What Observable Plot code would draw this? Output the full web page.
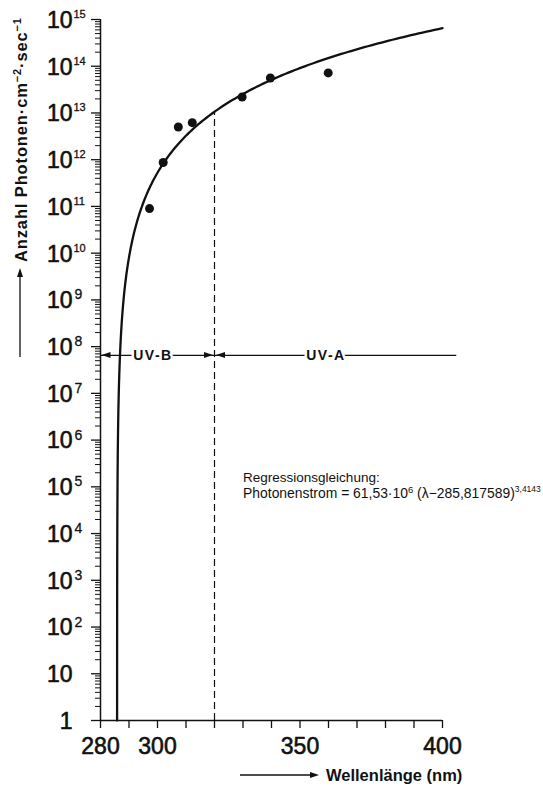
<!DOCTYPE html>
<html>
<head>
<meta charset="utf-8">
<script src="https://cdn.jsdelivr.net/npm/d3@7"></script>
<script src="https://cdn.jsdelivr.net/npm/@observablehq/plot@0.6"></script>
<style>
  body { margin: 0; background: #fff; }
  #chart svg { display: block; }
</style>
</head>
<body>
<div id="chart"></div>
<script>
// Measured photon flux (photons · cm⁻² · s⁻¹) at selected wavelengths (nm)
const wavelengths = [297.2, 302.0, 307.3, 312.2, 329.7, 339.6, 359.9];
const photonFlux  = [9.0e10, 8.7e11, 5.0e12, 6.2e12, 2.2e13, 5.6e13, 7.2e13];

// Regression: flux = a · (λ − λ0)^b
const regA = 61.53e6;
const regLambda0 = 285.817589;
const regExp = 3.4143;

// Axes
const xTicks = [280, 290, 300, 310, 320, 330, 340, 350, 360, 370, 380, 390, 400];
const xTickLabels = [280, 300, 350, 400];
const yDecades = [0, 1, 2, 3, 4, 5, 6, 7, 8, 9, 10, 11, 12, 13, 14, 15];

// UV-B / UV-A bands
const bandEdges = [280, 320, 405];
const bandLabels = ["UV-B", "UV-A"];
const bandLabelX = [298.4, 359.1];
const bandLevel = 6.5e7;

const flux = l => regA * Math.pow(l - regLambda0, regExp);
const lambdaStart = regLambda0 + Math.pow(1 / regA, 1 / regExp);
const curve = d3.range(0, 241).map(i => {
  const l = lambdaStart + (400 - lambdaStart) * Math.pow(i / 240, 3);
  return {l, f: flux(l)};
});
const points = wavelengths.map((l, i) => ({l, f: photonFlux[i]}));

const majorY = yDecades.map(n => 10 ** n);
const minorY = yDecades.slice(0, -1).flatMap(n => d3.range(2, 10).map(k => k * 10 ** n));

// Text with superscript runs, placed from the plot's scales/dimensions
function richText(parts, place, opts) {
  return (index, scales, values, dims) => {
    const [x, y] = place(scales, dims);
    const t = d3.create("svg:text")
      .attr("transform", `translate(${x},${y})` + (opts.rotate ? ` rotate(${opts.rotate})` : ""))
      .attr("font-size", opts.fontSize)
      .attr("font-weight", opts.fontWeight || "normal")
      .attr("text-anchor", opts.anchor || "start")
      .attr("fill", "#111");
    if (opts.letterSpacing) t.attr("letter-spacing", opts.letterSpacing);
    if (opts.textLength) t.attr("textLength", opts.textLength).attr("lengthAdjust", "spacing");
    let shift = 0;
    for (const p of parts) {
      const s = t.append("tspan").text(p.text);
      const target = p.sup ? -(p.raise || opts.fontSize * 0.4) : 0;
      if (target !== shift) { s.attr("dy", target - shift); shift = target; }
      if (p.sup) s.attr("font-size", p.size || opts.fontSize * 0.62);
    }
    return t.node();
  };
}

// Filled arrowheads for the band bracket and the axis-title arrows
function arrowheads(index, scales, values, dims) {
  const g = d3.create("svg:g").attr("fill", "#111").attr("stroke", "none");
  const tri = (x, y, dir) => {
    const L = 9, w = 3;
    const p = {
      left:  `M${x},${y}L${x + L},${y - w}L${x + L},${y + w}Z`,
      right: `M${x},${y}L${x - L},${y - w}L${x - L},${y + w}Z`,
      up:    `M${x},${y}L${x - w},${y + L}L${x + w},${y + L}Z`
    }[dir];
    g.append("path").attr("d", p);
  };
  const yb = scales.y(bandLevel);
  tri(scales.x(bandEdges[0]) + 1.5, yb, "left");
  tri(scales.x(bandEdges[1]) - 1, yb, "right");
  tri(scales.x(bandEdges[1]) + 2, yb, "left");
  // axis title arrows
  const ax = 20;
  g.append("line").attr("x1", ax).attr("x2", ax).attr("y1", 357).attr("y2", 275)
    .attr("stroke", "#111").attr("stroke-width", 1.3);
  tri(ax, 268, "up");
  const ay = dims.height - 13;
  g.append("line").attr("x1", 240).attr("x2", 312).attr("y1", ay).attr("y2", ay)
    .attr("stroke", "#111").attr("stroke-width", 1.3);
  tri(319, ay, "right");
  return g.node();
}

const chart = Plot.plot({
  width: 543,
  height: 788,
  marginLeft: 100,
  marginRight: 101,
  marginTop: 19,
  marginBottom: 68,
  style: {fontFamily: '"Liberation Sans", Arial, Helvetica, sans-serif', background: "#fff", color: "#111"},
  x: {domain: [280, 400]},
  y: {type: "log", domain: [1, 1e15]},
  marks: [
    Plot.ruleX([280], {strokeWidth: 1.5}),
    Plot.ruleY([1], {strokeWidth: 1.5}),
    Plot.axisX(xTicks, {
      tickSize: 8, tickPadding: 9, fontSize: 23, strokeWidth: 1.3, label: null,
      tickFormat: d => xTickLabels.includes(d) ? String(d) : ""
    }),
    Plot.axisY(minorY, {tickSize: 5, tickFormat: () => "", label: null, strokeWidth: 1}),
    Plot.axisY(majorY, {tickSize: 9, tickFormat: () => "", label: null, strokeWidth: 1.3}),
    Plot.text(yDecades, {
      y: n => 10 ** n, text: n => (n === 0 ? "1" : "10"),
      frameAnchor: "left", dx: -28, dy: 1, textAnchor: "end", fontSize: 23,
      fill: "#111", stroke: "#111", strokeWidth: 0.6
    }),
    Plot.text(yDecades.filter(n => n > 1 && n < 10), {
      y: n => 10 ** n, text: n => String(n),
      frameAnchor: "left", dx: -26, dy: -5, textAnchor: "start", fontSize: 14,
      fill: "#111", stroke: "#111", strokeWidth: 0.3
    }),
    Plot.text(yDecades.filter(n => n >= 10), {
      y: n => 10 ** n, text: n => String(n),
      frameAnchor: "left", dx: -27, dy: -5, textAnchor: "start", fontSize: 11,
      fill: "#111", stroke: "#111", strokeWidth: 0.3
    }),
    // UV-B / UV-A boundary
    Plot.ruleX([bandEdges[1]], {y1: 1, y2: flux(bandEdges[1]), strokeDasharray: "7,4", strokeWidth: 1.2}),
    Plot.ruleY([bandLevel], {x1: bandEdges[0], x2: bandEdges[2], strokeWidth: 1.1}),
    Plot.text(bandLabels, {
      x: (d, i) => bandLabelX[i], y: bandLevel, text: d => d,
      fontWeight: "bold", fontSize: 14, fill: "#111",
      stroke: "white", strokeWidth: 5, paintOrder: "stroke"
    }),
    arrowheads,
    // regression curve and measurements
    Plot.line(curve, {x: "l", y: "f", strokeWidth: 2.3}),
    Plot.dot(points, {x: "l", y: "f", r: 4.5, fill: "#111"}),
    richText([{text: "Regressionsgleichung:"}],
      (s) => [s.x(330.2), s.y(1.5e5) + 3.5], {fontSize: 13.5}),
    richText([
      {text: "Photonenstrom = 61,53·10"}, {text: "6", sup: true, raise: 5, size: 9.5},
      {text: " (λ−285,817589)"}, {text: "3,4143", sup: true, raise: 6, size: 8.5}
    ], (s) => [s.x(330.2), s.y(7.6e4) + 6.5], {fontSize: 13.9}),
    // axis titles
    richText([
      {text: "Anzahl Photonen·cm"}, {text: "−2", sup: true, raise: 6, size: 11},
      {text: "·sec"}, {text: "−1", sup: true, raise: 6, size: 11}
    ], () => [27, 262], {fontSize: 16.5, fontWeight: "bold", rotate: -90, textLength: 244}),
    richText([{text: "Wellenlänge (nm)"}],
      (s, d) => [326, d.height - 7], {fontSize: 16.5, fontWeight: "bold"})
  ]
});

// Heavier tick numerals on the wavelength axis, spaced band labels
const svg = d3.select(chart);
svg.selectAll("g[aria-label='x-axis tick label'] text")
  .attr("stroke", "#111").attr("stroke-width", 0.6);
svg.selectAll("text").filter(function () { return bandLabels.includes(this.textContent); })
  .attr("letter-spacing", 1.5);

document.getElementById("chart").append(chart);
</script>
</body>
</html>
